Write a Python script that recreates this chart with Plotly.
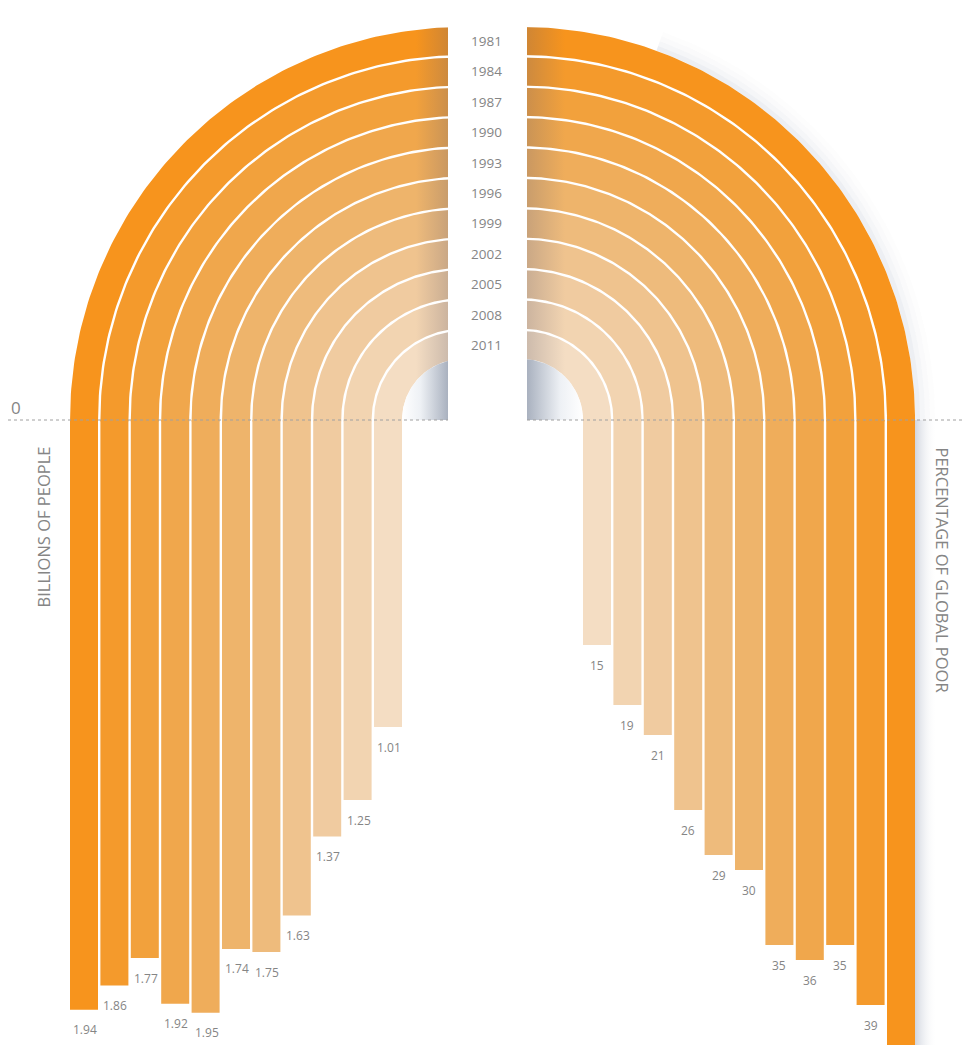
import numpy as np
import plotly.graph_objects as go

# ---------------- data ----------------
years = ["1981", "1984", "1987", "1990", "1993", "1996", "1999", "2002", "2005", "2008", "2011"]
billions_of_people = [1.94, 1.86, 1.77, 1.92, 1.95, 1.74, 1.75, 1.63, 1.37, 1.25, 1.01]
pct_global_poor = [44, 39, 35, 36, 35, 30, 29, 26, 21, 19, 15]
left_title = "BILLIONS OF PEOPLE"
right_title = "PERCENTAGE OF GLOBAL POOR"

# ---------------- styles / geometry ----------------
band_colors = ["#F7941D", "#F49A2C", "#F2A13C", "#F0A74C", "#EFAD5B", "#EEB46B",
               "#EEBB7C", "#EFC38E", "#F0CBA0", "#F2D4B1", "#F4DDC3"]
PAGE_W, PAGE_H = 972, 1045
OFF = 8                      # default body margin of the html page
FIG_W, FIG_H = PAGE_W - OFF, PAGE_H - OFF
ZERO_PX = 420                # page pixel of the zero line
R0, PITCH, BAND_W = 393, 30.4, 28
CX_L, CX_R = 463, 522
STRIP_X0, STRIP_X1 = 448, 527
PX_PER_BILLION, PX_PER_PCT = 304, 15
TXT = "#858585"
FONT = "Open Sans"


def mix(c1, c2, t):
    a = [int(c1[i:i + 2], 16) for i in (1, 3, 5)]
    b = [int(c2[i:i + 2], 16) for i in (1, 3, 5)]
    return "#%02X%02X%02X" % tuple(int(round(a[k] * (1 - t) + b[k] * t)) for k in range(3))


def band(cx, r_out, r_in, th0, th1, n=120, ext=1.5):
    th = np.radians(np.linspace(th0, th1, n))
    xo = cx + r_out * np.cos(th)
    yo = ZERO_PX - r_out * np.sin(th)
    xi = cx + r_in * np.cos(th[::-1])
    yi = ZERO_PX - r_in * np.sin(th[::-1])
    xs = np.concatenate([xo, xi])
    ys = np.concatenate([yo, yi])
    ys = np.where(np.isclose(ys, ZERO_PX), ZERO_PX + ext, ys)
    return xs, ys


n = len(years)
left_x = [CX_L - R0 + BAND_W / 2 + PITCH * i for i in range(n)]
right_x = [CX_R + R0 - BAND_W / 2 - PITCH * i for i in range(n)]

fig = go.Figure()

# bars (data driven, going down from zero)
fig.add_trace(go.Bar(x=left_x, y=billions_of_people, width=BAND_W, offset=-BAND_W / 2,
                     marker=dict(color=band_colors, line=dict(width=0)),
                     xaxis="x", yaxis="y", hoverinfo="skip", showlegend=False))
fig.add_trace(go.Bar(x=right_x, y=pct_global_poor, width=BAND_W, offset=-BAND_W / 2,
                     marker=dict(color=band_colors, line=dict(width=0)),
                     xaxis="x", yaxis="y2", hoverinfo="skip", showlegend=False))

# soft shadow right of the outer right bar
sx0 = CX_R + R0
fig.add_trace(go.Scatter(x=[sx0, sx0 + 22, sx0 + 22, sx0, sx0], y=[ZERO_PX, ZERO_PX, PAGE_H, PAGE_H, ZERO_PX],
                         mode="lines", line=dict(width=0), fill="toself",
                         fillgradient=dict(type="horizontal", start=sx0, stop=sx0 + 22,
                                           colorscale=[[0, "rgba(140,152,175,0.40)"], [1, "rgba(255,255,255,0)"]]),
                         xaxis="x", yaxis="y3", hoverinfo="skip", showlegend=False))
# soft shadow outside the outer right arc
for k, a in enumerate([0.14, 0.08, 0.045, 0.02]):
    xs, ys = band(CX_R, R0 + 5 * (k + 1), R0 + 5 * k, 0, 70, ext=0)
    fig.add_trace(go.Scatter(x=xs, y=ys, mode="lines", line=dict(width=0), fill="toself",
                             fillcolor="rgba(130,145,170,%.3f)" % a,
                             xaxis="x", yaxis="y3", hoverinfo="skip", showlegend=False))

# arches
for i in range(n):
    r_out = R0 - PITCH * i
    r_in = r_out - BAND_W
    base = band_colors[i]
    dark = mix(base, "#6A6270", 0.28)
    xs, ys = band(CX_L, r_out, r_in, 180, 90)
    fig.add_trace(go.Scatter(x=xs, y=ys, mode="lines", line=dict(width=0), fill="toself",
                             fillgradient=dict(type="horizontal", start=STRIP_X0 - 32, stop=STRIP_X0,
                                               colorscale=[[0, base], [1, dark]]),
                             xaxis="x", yaxis="y3", hoverinfo="skip", showlegend=False))
    xs, ys = band(CX_R, r_out, r_in, 90, 0)
    fig.add_trace(go.Scatter(x=xs, y=ys, mode="lines", line=dict(width=0), fill="toself",
                             fillgradient=dict(type="horizontal", start=STRIP_X1, stop=STRIP_X1 + 38,
                                               colorscale=[[0, dark], [1, base]]),
                             xaxis="x", yaxis="y3", hoverinfo="skip", showlegend=False))

# shadowed holes at the centre of the arches
r_hole = R0 - PITCH * (n - 1) - BAND_W
th = np.radians(np.linspace(180, 90, 60))
fig.add_trace(go.Scatter(x=np.concatenate([[CX_L], CX_L + r_hole * np.cos(th), [CX_L]]),
                         y=np.concatenate([[ZERO_PX], ZERO_PX - r_hole * np.sin(th), [ZERO_PX]]),
                         mode="lines", line=dict(width=0), fill="toself",
                         fillgradient=dict(type="horizontal", start=CX_L - r_hole, stop=STRIP_X0,
                                           colorscale=[[0, "#FFFFFF"], [0.4, "#EEF1F5"], [1, "#A9B1BF"]]),
                         xaxis="x", yaxis="y3", hoverinfo="skip", showlegend=False))
th = np.radians(np.linspace(90, 0, 60))
fig.add_trace(go.Scatter(x=np.concatenate([[CX_R], CX_R + r_hole * np.cos(th), [CX_R]]),
                         y=np.concatenate([[ZERO_PX], ZERO_PX - r_hole * np.sin(th), [ZERO_PX]]),
                         mode="lines", line=dict(width=0), fill="toself",
                         fillgradient=dict(type="horizontal", start=STRIP_X1, stop=CX_R + r_hole,
                                           colorscale=[[0, "#A9B1BF"], [0.6, "#EEF1F5"], [1, "#FFFFFF"]]),
                         xaxis="x", yaxis="y3", hoverinfo="skip", showlegend=False))

# ---------------- annotations ----------------
ann = []
for i in range(n):
    ann.append(dict(x=(STRIP_X0 + STRIP_X1) / 2 - 1, y=ZERO_PX - (R0 - PITCH * i - BAND_W / 2),
                    xref="x", yref="y3", text=years[i], showarrow=False,
                    font=dict(family=FONT, size=13.5, color=TXT)))
    ann.append(dict(x=left_x[i] + 1, y=billions_of_people[i], xref="x", yref="y",
                    text="%.2f" % billions_of_people[i], showarrow=False, yshift=-20,
                    font=dict(family=FONT, size=12, color=TXT)))
    ann.append(dict(x=right_x[i], y=pct_global_poor[i], xref="x", yref="y2",
                    text=str(pct_global_poor[i]), showarrow=False, yshift=-20,
                    font=dict(family=FONT, size=12, color=TXT)))

ann.append(dict(x=43, y=445, xref="x", yref="y3", text=left_title, textangle=-90,
                xanchor="center", yanchor="top", showarrow=False,
                font=dict(family=FONT, size=16.5, color=TXT)))
ann.append(dict(x=942, y=445, xref="x", yref="y3", text=right_title, textangle=90,
                xanchor="center", yanchor="top", showarrow=False,
                font=dict(family=FONT, size=16.5, color=TXT)))
ann.append(dict(x=16, y=0, xref="x", yref="y", text="0", showarrow=False, yshift=13,
                font=dict(family=FONT, size=17, color=TXT)))
ann.append(dict(x=971, y=0, xref="x", yref="y", text="0", showarrow=False, yshift=13,
                font=dict(family=FONT, size=17, color=TXT)))

shapes = [
    dict(type="rect", xref="x", yref="y3", x0=STRIP_X0, x1=STRIP_X1, y0=0, y1=ZERO_PX + 20,
         fillcolor="white", line=dict(width=0), layer="above"),
    dict(type="line", xref="x", yref="y", x0=8, x1=STRIP_X0, y0=0, y1=0,
         line=dict(color="#A0A0A0", width=1, dash="dot"), layer="above"),
    dict(type="line", xref="x", yref="y", x0=STRIP_X1, x1=PAGE_W, y0=0, y1=0,
         line=dict(color="#A0A0A0", width=1, dash="dot"), layer="above"),
]

zero_fig = ZERO_PX - OFF     # zero line in figure pixels
fig.update_layout(
    width=FIG_W, height=FIG_H, margin=dict(l=0, r=0, t=0, b=0, pad=0),
    paper_bgcolor="white", plot_bgcolor="white",
    barmode="overlay", showlegend=False,
    xaxis=dict(range=[OFF, PAGE_W], visible=False, fixedrange=True),
    yaxis=dict(range=[(FIG_H - zero_fig) / PX_PER_BILLION, -zero_fig / PX_PER_BILLION],
               visible=False, fixedrange=True),
    yaxis2=dict(range=[(FIG_H - zero_fig) / PX_PER_PCT, -zero_fig / PX_PER_PCT],
                overlaying="y", visible=False, fixedrange=True),
    yaxis3=dict(range=[PAGE_H, OFF], overlaying="y", visible=False, fixedrange=True),
    annotations=ann, shapes=shapes,
)

fig.write_html("out.html")
